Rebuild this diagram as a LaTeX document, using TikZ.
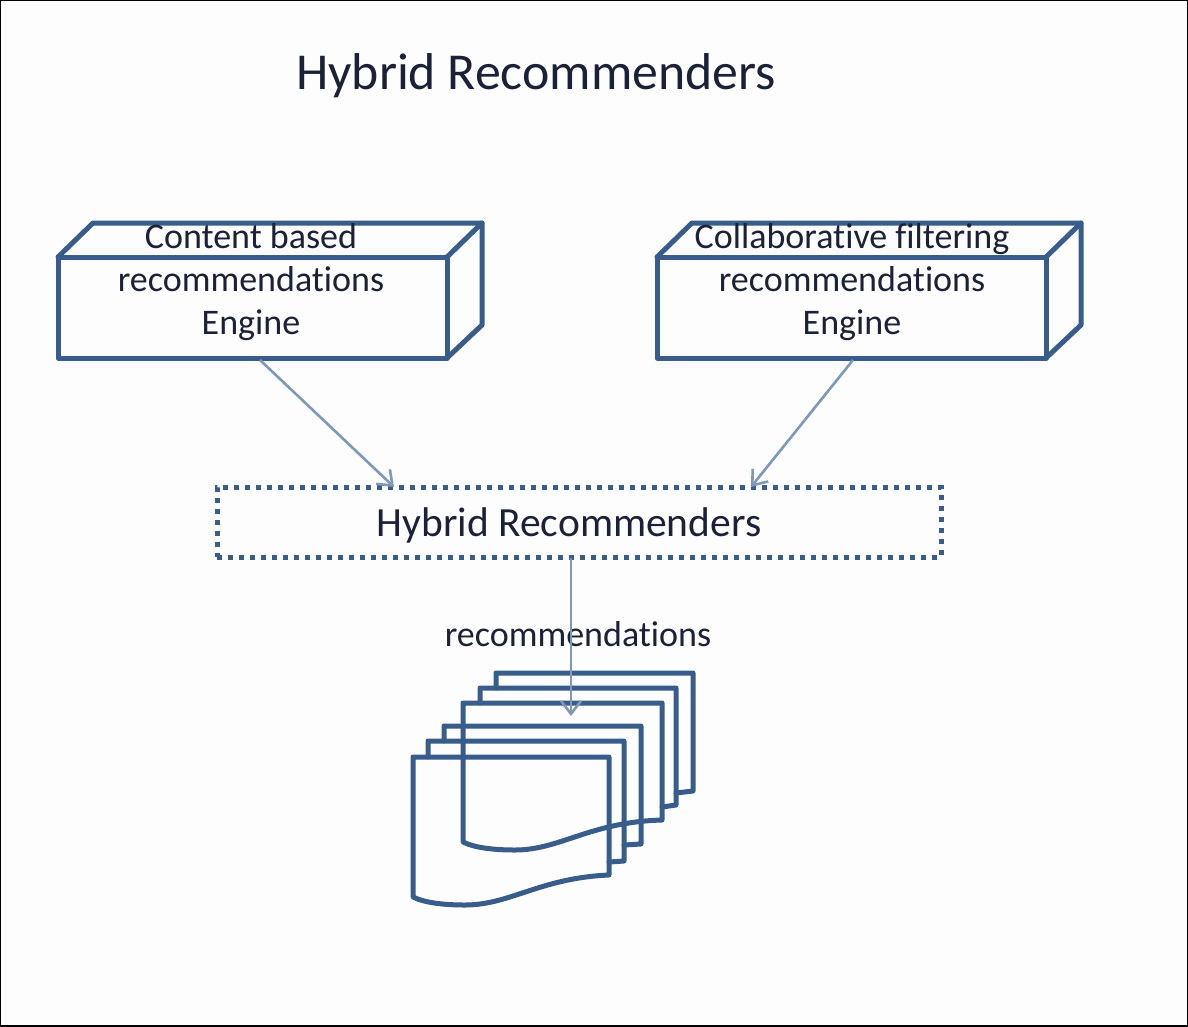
\documentclass[tikz,border=0pt]{standalone}
\usepackage{fontspec}
\setmainfont[RawFeature={-liga}]{Carlito}
\usetikzlibrary{arrows.meta}
\definecolor{edgeblue}{HTML}{385D8A}
\definecolor{arrowblue}{HTML}{7F98B8}
\definecolor{inkdark}{HTML}{1B2136}
\definecolor{paper}{HTML}{FDFDFD}
\tikzset{
  x=1pt,y=-1pt,
  shapeline/.style={draw=edgeblue,line width=5pt,line join=round,line cap=round},
  frontbox/.style={shapeline,minimum width=389pt,minimum height=101pt,anchor=north west,inner sep=0pt,outer sep=0pt},
  dotbox/.style={draw=edgeblue,line width=5pt,dash pattern=on 5pt off 6pt,minimum width=724pt,minimum height=70pt,anchor=north west,inner sep=0pt,outer sep=0pt},
  label/.style={text=inkdark,font=\fontsize{36}{43}\selectfont,align=center,inner sep=0pt},
  flow/.style={draw=arrowblue,line width=2.6pt,-{Straight Barb[length=13pt,width=20pt,line width=2.6pt]}},
}
\begin{document}
\begin{tikzpicture}
\useasboundingbox (0,0) rectangle (1188,1026);
\fill[paper] (0,0) rectangle (1188,1026);
\draw[black,line width=2pt] (0,0) rectangle (1188,1026);

\node[text=inkdark,font=\fontsize{51.8}{60}\selectfont,inner sep=0pt] (title) at (536,76) {Hybrid Recommenders};

% left engine
\node[frontbox] (cb) at (58,257) {};
\draw[shapeline] (cb.north west) -- (93,223) -- (482,223) -- (482,325) -- (cb.south east);
\draw[shapeline] (482,223) -- (cb.north east);
\node[label] (cbt) at (251,282) {Content based\\recommendations\\Engine};

% right engine
\node[frontbox] (cf) at (657,257) {};
\draw[shapeline] (cf.north west) -- (692,223) -- (1081,223) -- (1081,325) -- (cf.south east);
\draw[shapeline] (1081,223) -- (cf.north east);
\node[label] (cft) at (852,282) {Collaborative filtering\\recommendations\\Engine};

% hybrid
\node[dotbox] (hy) at (217,487) {};
\node[label,font=\fontsize{41.5}{50}\selectfont] (hyt) at (569,525) {Hybrid Recommenders};

\node[label] (rec) at (578,634.5) {recommendations};

% documents, upper stack
\draw[shapeline] (496,688) -- (496,673) -- (693,673) -- (693,791) -- (676,793);
\draw[shapeline] (480,703) -- (480,688) -- (676,688) -- (676,805) -- (662,807);
\draw[shapeline] (463,703) -- (662,703) -- (662,820)
  .. controls (590,822) and (560,850) .. (515,850)
  .. controls (495,850) and (475,848) .. (463,842) -- cycle;
% documents, lower stack
\draw[shapeline] (444,741) -- (444,726) -- (641,726) -- (641,844) -- (624,845);
\draw[shapeline] (428,757) -- (428,741) -- (624,741) -- (624,861) -- (609,862);
\draw[shapeline] (413,757) -- (609,757) -- (609,875)
  .. controls (540,878) and (510,905) .. (465,905)
  .. controls (445,905) and (425,903) .. (413,897) -- cycle;
\coordinate (docs) at (571,716);

% connectors
\coordinate (cbout) at (260,360);
\coordinate (cfout) at (853,360);
\coordinate (hyinl) at (394,487);
\coordinate (hyinr) at (751,487);
\coordinate (hyout) at (571,558);
\draw[flow] (cbout) -- (hyinl);
\draw[flow] (cfout) -- (hyinr);
\draw[flow] (hyout) -- (docs);
\end{tikzpicture}
\end{document}
